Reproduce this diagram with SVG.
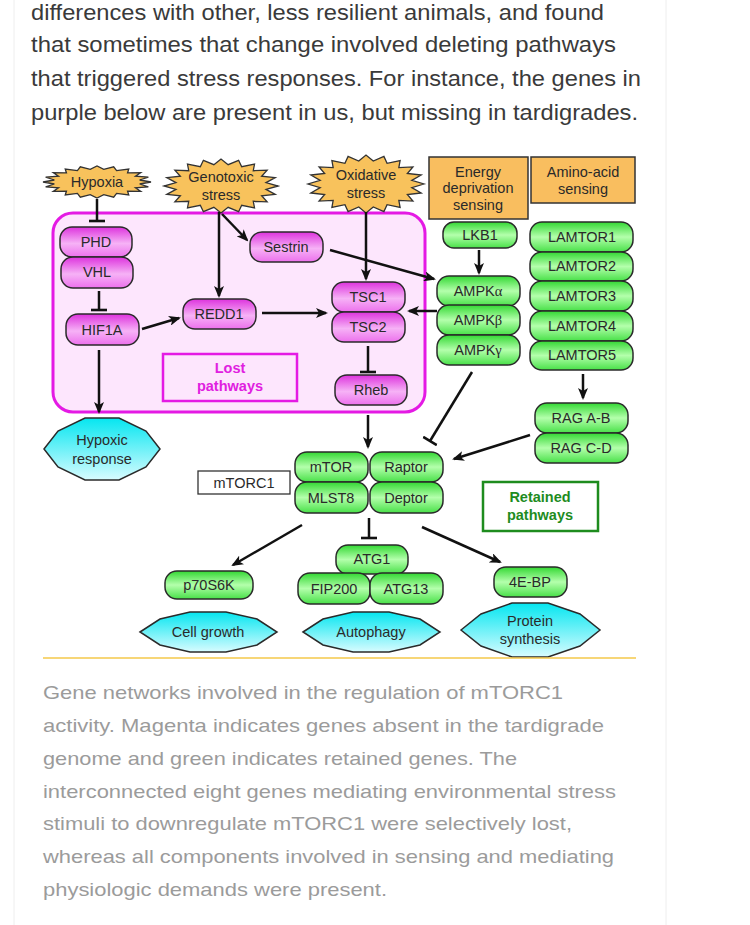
<svg xmlns="http://www.w3.org/2000/svg" xmlns:xlink="http://www.w3.org/1999/xlink" width="750" height="925" viewBox="0 0 750 925">
<defs>
<style>
.para{font-family:"Liberation Sans",Arial,sans-serif;font-size:22px;fill:#3a3a3a}
.cap{font-family:"Liberation Sans",Arial,sans-serif;font-size:19px;fill:#9b9b9b}
.t{font-family:"Liberation Sans",Arial,sans-serif;font-size:14.5px;fill:#2a2a2a;text-anchor:middle}
.mg{fill:url(#gMag);stroke:#2a2a2a;stroke-width:1.5}
.gr{fill:url(#gGrn);stroke:#2a2a2a;stroke-width:1.5}
.cy{fill:url(#gCyan);stroke:#2a2a2a;stroke-width:1.5}
.or{fill:#F9BE5F;stroke:#333;stroke-width:1.5}
.star{fill:#F8C25C;stroke:#333;stroke-width:1.3}
.ar{fill:none;stroke:#111;stroke-width:2.5;marker-end:url(#arr)}
.tb{fill:none;stroke:#111;stroke-width:2.5;marker-end:url(#tbar)}
.gk{font-family:"Liberation Serif","Times New Roman",serif}
</style>
<linearGradient id="gMag" x1="0" y1="0" x2="0" y2="1">
<stop offset="0" stop-color="#DD33DD"/><stop offset="0.55" stop-color="#F6B2F6"/><stop offset="1" stop-color="#EC70EC"/>
</linearGradient>
<linearGradient id="gGrn" x1="0" y1="0" x2="0" y2="1">
<stop offset="0" stop-color="#33D833"/><stop offset="0.5" stop-color="#B4FFAC"/><stop offset="1" stop-color="#48E048"/>
</linearGradient>
<linearGradient id="gCyan" x1="0" y1="0" x2="0" y2="1">
<stop offset="0" stop-color="#05E6F0"/><stop offset="1" stop-color="#D8FCFF"/>
</linearGradient>
<polygon id="star" vector-effect="non-scaling-stroke" points="1,0 .790,.125 .951,.309 .713,.363 .809,.588 .566,.566 .588,.809 .363,.713 .309,.951 .125,.790 0,1 -.125,.790 -.309,.951 -.363,.713 -.588,.809 -.566,.566 -.809,.588 -.713,.363 -.951,.309 -.790,.125 -1,0 -.790,-.125 -.951,-.309 -.713,-.363 -.809,-.588 -.566,-.566 -.588,-.809 -.363,-.713 -.309,-.951 -.125,-.790 0,-1 .125,-.790 .309,-.951 .363,-.713 .588,-.809 .566,-.566 .809,-.588 .713,-.363 .951,-.309 .790,-.125"/>
<marker id="arr" viewBox="0 0 12 10" refX="10" refY="5" markerWidth="12" markerHeight="10" markerUnits="userSpaceOnUse" orient="auto">
<path d="M0,0 L12,5 L0,10 L3,5 Z" fill="#111"/>
</marker>
<marker id="tbar" viewBox="0 0 4 16" refX="2" refY="8" markerWidth="4" markerHeight="16" markerUnits="userSpaceOnUse" orient="auto">
<path d="M2,0 L2,16" stroke="#111" stroke-width="2.6"/>
</marker>
</defs>
<rect x="0" y="0" width="750" height="925" fill="#ffffff"/>
<line x1="14" y1="0" x2="14" y2="925" stroke="#eeeeee" stroke-width="1"/>
<line x1="666" y1="0" x2="666" y2="925" stroke="#eeeeee" stroke-width="1"/>

<g id="paragraph">
<text class="para" x="31" y="20" textLength="573" lengthAdjust="spacingAndGlyphs">differences with other, less resilient animals, and found</text>
<text class="para" x="31" y="52" textLength="585" lengthAdjust="spacingAndGlyphs">that sometimes that change involved deleting pathways</text>
<text class="para" x="31" y="86" textLength="610" lengthAdjust="spacingAndGlyphs">that triggered stress responses. For instance, the genes in</text>
<text class="para" x="31" y="120" textLength="607" lengthAdjust="spacingAndGlyphs">purple below are present in us, but missing in tardigrades.</text>
</g>

<g id="lost-region">
<rect x="53" y="213" width="372" height="199" rx="20" fill="#FDE6FD" stroke="#E41AE4" stroke-width="3"/>
</g>
<g id="lost-label">
<rect x="163" y="354" width="134" height="47" fill="#FDE6FD" stroke="#E41AE4" stroke-width="2.5"/>
<text x="230" y="373" text-anchor="middle" font-family="Liberation Sans,Arial,sans-serif" font-size="14.5" font-weight="bold" fill="#E020E0">Lost</text>
<text x="230" y="391" text-anchor="middle" font-family="Liberation Sans,Arial,sans-serif" font-size="14.5" font-weight="bold" fill="#E020E0">pathways</text>
</g>

<g id="hypoxia"><use xlink:href="#star" class="star" transform="translate(97,182) scale(54,16)"/><text class="t" x="97" y="187">Hypoxia</text></g>
<g id="genotoxic"><use xlink:href="#star" class="star" transform="translate(221,186) scale(57,27)"/><text class="t" x="221" y="182">Genotoxic</text><text class="t" x="221" y="200">stress</text></g>
<g id="oxidative"><use xlink:href="#star" class="star" transform="translate(366,184) scale(58,29)"/><text class="t" x="366" y="180">Oxidative</text><text class="t" x="366" y="198">stress</text></g>
<g id="energy"><rect class="or" x="429" y="157" width="99" height="62"/><text class="t" x="478" y="177">Energy</text><text class="t" x="478" y="193">deprivation</text><text class="t" x="478" y="210">sensing</text></g>
<g id="amino"><rect class="or" x="531" y="157" width="104" height="46"/><text class="t" x="583" y="177">Amino-acid</text><text class="t" x="583" y="194">sensing</text></g>

<g id="PHD"><rect class="mg" x="60" y="227" width="72" height="30" rx="12"/><text class="t" x="96" y="247">PHD</text></g>
<g id="VHL"><rect class="mg" x="61" y="257" width="72" height="31" rx="12"/><text class="t" x="97" y="277">VHL</text></g>
<g id="HIF1A"><rect class="mg" x="66" y="314" width="73" height="31" rx="12"/><text class="t" x="102" y="335">HIF1A</text></g>
<g id="REDD1"><rect class="mg" x="183" y="299" width="73" height="30" rx="12"/><text class="t" x="219" y="319">REDD1</text></g>
<g id="Sestrin"><rect class="mg" x="250" y="232" width="73" height="30" rx="12"/><text class="t" x="286" y="252">Sestrin</text></g>
<g id="TSC1"><rect class="mg" x="332" y="282" width="73" height="30" rx="12"/><text class="t" x="368" y="302">TSC1</text></g>
<g id="TSC2"><rect class="mg" x="332" y="312" width="73" height="30" rx="12"/><text class="t" x="368" y="332">TSC2</text></g>
<g id="Rheb"><rect class="mg" x="335" y="375" width="72" height="30" rx="12"/><text class="t" x="371" y="395">Rheb</text></g>

<g id="LKB1"><rect class="gr" x="443" y="222" width="74" height="26" rx="11"/><text class="t" x="480" y="240">LKB1</text></g>
<g id="AMPKa"><rect class="gr" x="437" y="276" width="83" height="30" rx="12"/><text class="t" x="478" y="296">AMPK<tspan class="gk">α</tspan></text></g>
<g id="AMPKb"><rect class="gr" x="437" y="305" width="83" height="30" rx="12"/><text class="t" x="478" y="325">AMPK<tspan class="gk">β</tspan></text></g>
<g id="AMPKg"><rect class="gr" x="437" y="335" width="83" height="30" rx="12"/><text class="t" x="478" y="355">AMPK<tspan class="gk">γ</tspan></text></g>
<g id="LAMTOR1"><rect class="gr" x="530" y="222" width="103" height="30" rx="12"/><text class="t" x="582" y="242">LAMTOR1</text></g>
<g id="LAMTOR2"><rect class="gr" x="530" y="252" width="103" height="29" rx="12"/><text class="t" x="582" y="271">LAMTOR2</text></g>
<g id="LAMTOR3"><rect class="gr" x="530" y="281" width="103" height="30" rx="12"/><text class="t" x="582" y="301">LAMTOR3</text></g>
<g id="LAMTOR4"><rect class="gr" x="530" y="311" width="103" height="30" rx="12"/><text class="t" x="582" y="331">LAMTOR4</text></g>
<g id="LAMTOR5"><rect class="gr" x="530" y="341" width="103" height="29" rx="12"/><text class="t" x="582" y="360">LAMTOR5</text></g>
<g id="RAGAB"><rect class="gr" x="535" y="403" width="93" height="30" rx="12"/><text class="t" x="581" y="423">RAG A-B</text></g>
<g id="RAGCD"><rect class="gr" x="535" y="433" width="93" height="30" rx="12"/><text class="t" x="581" y="453">RAG C-D</text></g>

<g id="mTOR"><rect class="gr" x="295" y="452" width="73" height="30" rx="12"/><text class="t" x="331" y="472">mTOR</text></g>
<g id="Raptor"><rect class="gr" x="370" y="452" width="73" height="30" rx="12"/><text class="t" x="406" y="472">Raptor</text></g>
<g id="MLST8"><rect class="gr" x="295" y="482" width="73" height="31" rx="12"/><text class="t" x="331" y="503">MLST8</text></g>
<g id="Deptor"><rect class="gr" x="370" y="482" width="73" height="31" rx="12"/><text class="t" x="406" y="503">Deptor</text></g>
<g id="mTORC1"><rect x="198" y="471" width="92" height="23" fill="#fff" stroke="#333" stroke-width="1.3"/><text class="t" x="244" y="488">mTORC1</text></g>
<g id="retained"><rect x="483" y="482" width="115" height="49" fill="#fff" stroke="#1E8C1E" stroke-width="2.5"/><text x="540" y="502" text-anchor="middle" font-family="Liberation Sans,Arial,sans-serif" font-size="14.5" font-weight="bold" fill="#1E8C1E">Retained</text><text x="540" y="520" text-anchor="middle" font-family="Liberation Sans,Arial,sans-serif" font-size="14.5" font-weight="bold" fill="#1E8C1E">pathways</text></g>

<g id="ATG1"><rect class="gr" x="336" y="545" width="72" height="29" rx="12"/><text class="t" x="372" y="564">ATG1</text></g>
<g id="FIP200"><rect class="gr" x="298" y="573" width="72" height="31" rx="12"/><text class="t" x="334" y="594">FIP200</text></g>
<g id="ATG13"><rect class="gr" x="370" y="573" width="73" height="31" rx="12"/><text class="t" x="406" y="594">ATG13</text></g>
<g id="p70S6K"><rect class="gr" x="165" y="571" width="88" height="28" rx="12"/><text class="t" x="209" y="590">p70S6K</text></g>
<g id="4EBP"><rect class="gr" x="494" y="567" width="73" height="30" rx="12"/><text class="t" x="530" y="587">4E-BP</text></g>

<g id="hypoxic-response"><polygon class="cy" points="44,449 58,431 85,418 119,418 146,431 160,449 146,467 119,480 85,480 58,467"/><text class="t" x="102" y="445">Hypoxic</text><text class="t" x="102" y="464">response</text></g>
<g id="cell-growth"><polygon class="cy" points="140,632 160,619 190,612 226,612 257,619 277,632 257,645 226,652 190,652 160,645"/><text class="t" x="208" y="637">Cell growth</text></g>
<g id="autophagy"><polygon class="cy" points="303,632 323,619 353,612 389,612 420,619 440,632 420,645 389,652 353,652 323,645"/><text class="t" x="371" y="637">Autophagy</text></g>
<g id="protein-synthesis"><polygon class="cy" points="461,630 481,614 512,603 548,603 580,614 600,630 580,646 548,657 512,657 481,646"/><text class="t" x="530" y="626">Protein</text><text class="t" x="530" y="644">synthesis</text></g>

<g id="connectors">
<line class="tb" x1="97" y1="199" x2="97" y2="221"/>
<line class="tb" x1="99" y1="291" x2="99" y2="310"/>
<line class="ar" x1="99" y1="350" x2="99" y2="412"/>
<line class="ar" x1="142" y1="329" x2="179" y2="318"/>
<line class="ar" x1="219" y1="212" x2="219" y2="296"/>
<line class="ar" x1="222" y1="214" x2="247" y2="240"/>
<line class="ar" x1="366" y1="212" x2="366" y2="279"/>
<line class="ar" x1="330" y1="250" x2="434" y2="279"/>
<line class="ar" x1="262" y1="313" x2="326" y2="313"/>
<line class="ar" x1="437" y1="311" x2="409" y2="311"/>
<line class="ar" x1="479" y1="250" x2="479" y2="273"/>
<line class="tb" x1="368" y1="346" x2="368" y2="372"/>
<line class="ar" x1="368" y1="415" x2="368" y2="447"/>
<line class="tb" x1="472" y1="372" x2="430" y2="441"/>
<line class="ar" x1="530" y1="435" x2="454" y2="459"/>
<line class="ar" x1="583" y1="374" x2="583" y2="398"/>
<line class="ar" x1="302" y1="525" x2="233" y2="565"/>
<line class="tb" x1="369" y1="518" x2="369" y2="538"/>
<line class="ar" x1="422" y1="527" x2="500" y2="562"/>
</g>

<line x1="43" y1="658" x2="636" y2="658" stroke="#F5C84A" stroke-width="1.5"/>

<g id="caption">
<text class="cap" x="43" y="699" textLength="520" lengthAdjust="spacingAndGlyphs">Gene networks involved in the regulation of mTORC1</text>
<text class="cap" x="43" y="732" textLength="561" lengthAdjust="spacingAndGlyphs">activity. Magenta indicates genes absent in the tardigrade</text>
<text class="cap" x="43" y="765" textLength="474" lengthAdjust="spacingAndGlyphs">genome and green indicates retained genes. The</text>
<text class="cap" x="43" y="798" textLength="573" lengthAdjust="spacingAndGlyphs">interconnected eight genes mediating environmental stress</text>
<text class="cap" x="43" y="830" textLength="529" lengthAdjust="spacingAndGlyphs">stimuli to downregulate mTORC1 were selectively lost,</text>
<text class="cap" x="43" y="863" textLength="571" lengthAdjust="spacingAndGlyphs">whereas all components involved in sensing and mediating</text>
<text class="cap" x="43" y="896" textLength="344" lengthAdjust="spacingAndGlyphs">physiologic demands were present.</text>
</g>
</svg>
